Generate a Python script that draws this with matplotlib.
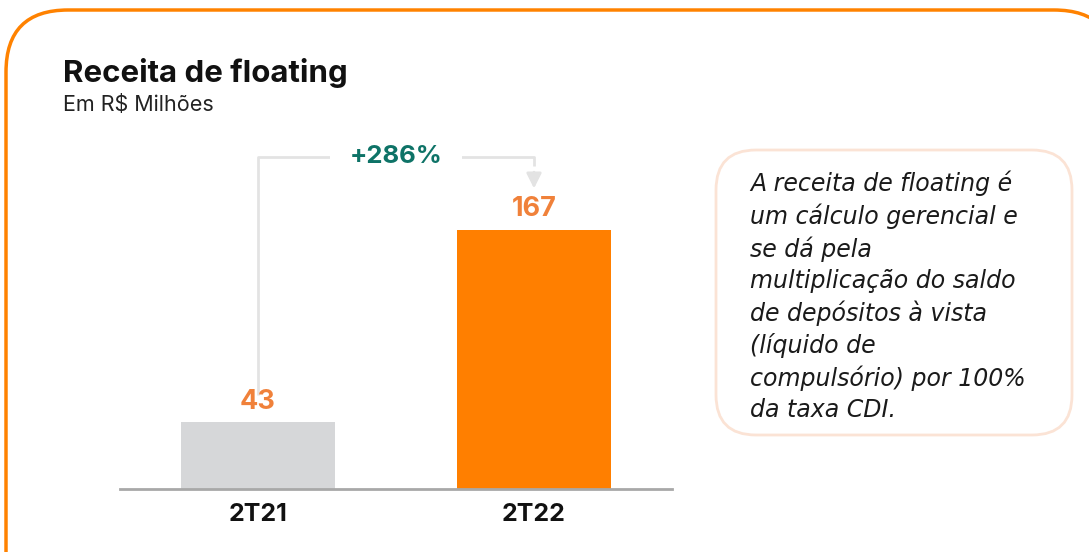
import matplotlib.pyplot as plt
from matplotlib.patches import FancyBboxPatch

categories = ['2T21', '2T22']
values = [43, 167]
bar_colors = ['#d6d7d9', '#ff7f00']
growth_label = '+286%'
title = 'Receita de floating'
subtitle = 'Em R$ Milhões'
note = ('A receita de floating é\num cálculo gerencial e\nse dá pela\n'
        'multiplicação do saldo\nde depósitos à vista\n(líquido de\n'
        'compulsório) por 100%\nda taxa CDI.')

plt.rcParams['font.family'] = ['Inter', 'DejaVu Sans']

fig = plt.figure(figsize=(10.89, 5.52), dpi=100)

# background layer in pixel coords
bg = fig.add_axes([0, 0, 1, 1], zorder=0)
bg.set_xlim(0, 1089)
bg.set_ylim(552, 0)
bg.axis('off')
bg.add_patch(FancyBboxPatch((6, 10), 1110, 620, boxstyle='round,pad=0,rounding_size=62',
                            fc='white', ec='#ff8200', lw=2.5))
bg.add_patch(FancyBboxPatch((716, 150), 356, 285, boxstyle='round,pad=0,rounding_size=40',
                            fc='white', ec='#fbe3d5', lw=2))
bg.text(63, 82, title, fontsize=22.5, fontweight='bold', color='#111111')
bg.text(63, 111, subtitle, fontsize=15.5, color='#222222')
bg.text(750, 171, note, fontsize=17, style='italic', color='#1a1a1a',
        family=['DejaVu Sans'], va='top', linespacing=1.36)

ax = fig.add_axes([120/1089, 63/552, 552/1089, 359/552], zorder=1)
ax.patch.set_alpha(0)
x = range(len(categories))
ax.bar(x, values, width=0.555, color=bar_colors, zorder=2)
ax.set_xlim(-0.5, 1.5)
ax.set_ylim(0, 231.5)
for sp in ['top', 'right', 'left']:
    ax.spines[sp].set_visible(False)
ax.spines['bottom'].set_color('#a8a8a8')
ax.spines['bottom'].set_linewidth(2)
ax.set_yticks([])
ax.set_xticks(list(x))
ax.set_xticklabels(categories, fontsize=18, fontweight='bold', color='#111111')
ax.tick_params(axis='x', length=0, pad=10)

for xi, v in zip(x, values):
    ax.text(xi, v + 5, str(v), ha='center', va='bottom', fontsize=19.5,
            fontweight='bold', color='#f0813a')

# growth bracket
top = max(values) * 1.282
gcol = '#e3e3e3'
ax.plot([0, 0, 1, 1], [values[0] + 17.5, top, top, top - 6], color=gcol, lw=2, zorder=1,
        solid_capstyle='butt')
ax.annotate('', xy=(1, max(values) + 25), xytext=(1, top - 8),
            arrowprops=dict(arrowstyle='-|>,head_length=0.9,head_width=0.45',
                            color=gcol, lw=2))
ax.text(0.5, top, growth_label, ha='center', va='center', fontsize=18.5, fontweight='bold',
        color='#0e7367', bbox=dict(fc='white', ec='none', pad=14), zorder=3)

fig.savefig('out.png', dpi=100)
